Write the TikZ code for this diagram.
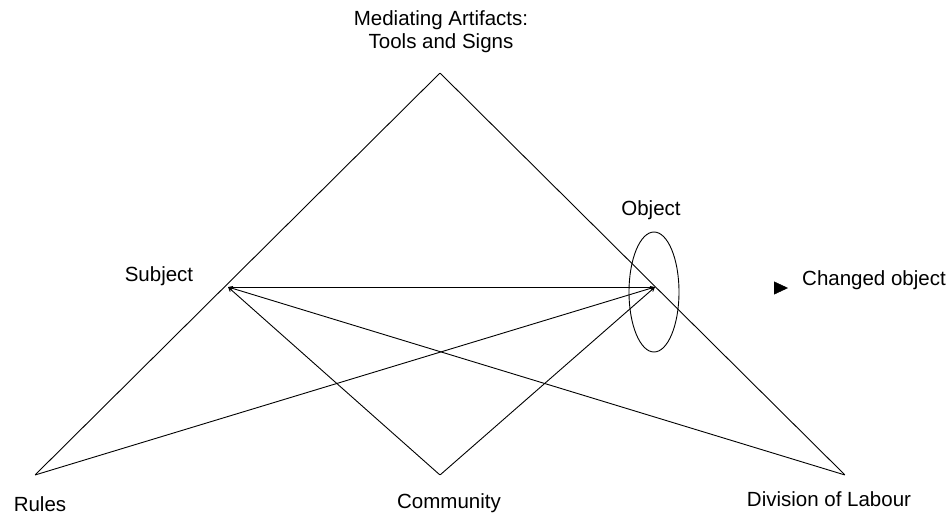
\documentclass[tikz,border=0pt]{standalone}
\usepackage{fontspec}
\setmainfont{Liberation Sans}
\usetikzlibrary{arrows.meta, positioning, shapes.geometric}

\begin{document}
\begin{tikzpicture}[x=1pt, y=-1pt]

\tikzset{point/.style = {inner sep=0pt, minimum size=0pt}}
\tikzset{label/.style = {font=\fontsize{20.5}{24}\selectfont, inner sep=0pt}}
\tikzset{edge/.style = {line width=0.9pt}}
\tikzset{tip/.style = {edge, -{Straight Barb[length=3.5pt, width=4pt]}}}
\useasboundingbox (0,0) rectangle (951,515);
% vertices
\node[point] (tools) at (440,73) {};
\node[point] (subject) at (228,287) {};
\node[point] (object) at (655,287) {};
\node[point] (rules) at (35,475) {};
\node[point] (community) at (440,475) {};
\node[point] (division) at (845,475) {};
% labels
\node[label] (toolsA) at (441,20) {Mediating Artifacts:};
\node[label] (toolsB) at (441,43) {Tools and Signs};
\node[label] (subjectL) at (159,276) {Subject};
\node[label] (objectL) at (651,210) {Object};
\node[label] (rulesL) at (40,504) {Rules};
\node[label] (communityL) at (449,503) {Community};
\node[label] (divisionL) at (829,499) {Division of Labour};
\node[label] (changedL) at (874,280) {Changed object};
%edges
\draw[edge] (rules) -- (tools) -- (division);
\draw[edge] (subject) -- (object);
\draw[tip] (community) -- (subject);
\draw[tip] (division) -- (subject);
\draw[tip] (rules) -- (object);
\draw[tip] (community) -- (object);
% object ellipse and outcome
\node[draw, line width=0.9pt, ellipse, minimum width=50pt, minimum height=120pt, inner sep=0pt] (objectE) at (654,292) {};
\coordinate (changedA) at (774,288);
\coordinate (changedB) at (788,288);
\draw[-{Triangle[length=14pt, width=13pt]}] (changedA) -- (changedB);
\end{tikzpicture}
\end{document}
